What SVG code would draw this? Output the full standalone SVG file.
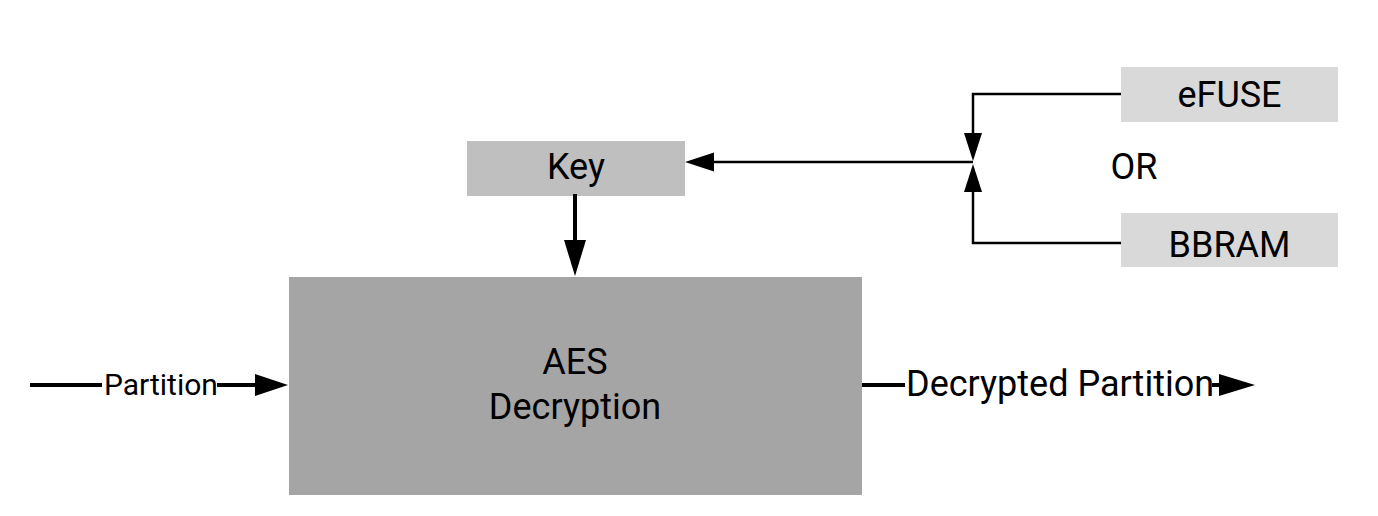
<svg xmlns="http://www.w3.org/2000/svg" width="1378" height="516" viewBox="0 0 1378 516">
<style>
text{font-family:Roboto,"Liberation Sans",sans-serif;fill:#000;}
.lbl{font-size:36px;text-anchor:middle;}
.thick{stroke:#000;stroke-width:4;fill:none;}
.thin{stroke:#000;stroke-width:2.5;fill:none;}
.head{fill:#000;stroke:none;}
</style>
<rect width="1378" height="516" fill="#fff"/>
<g id="aes">
<rect x="289" y="277" width="573" height="218" fill="#a5a5a5"/>
<text class="lbl" x="575" y="374">AES</text>
<text class="lbl" x="575" y="419">Decryption</text>
</g>
<g id="key">
<rect x="467" y="141" width="218" height="55" fill="#bfbfbf"/>
<text class="lbl" x="576" y="179">Key</text>
</g>
<g id="efuse">
<rect x="1121" y="67" width="217" height="55" fill="#d9d9d9"/>
<text class="lbl" x="1229.5" y="107">eFUSE</text>
</g>
<g id="bbram">
<rect x="1121" y="213" width="217" height="54" fill="#d9d9d9"/>
<text class="lbl" x="1229.5" y="257">BBRAM</text>
</g>
<g id="or">
<text class="lbl" x="1134" y="179">OR</text>
</g>
<g id="connectors">
<path class="thin" d="M1121 94 H973 V135"/>
<polygon class="head" points="964,133 982,133 973,161"/>
<path class="thin" d="M1121 243 H973 V190"/>
<polygon class="head" points="964,192 982,192 973,164"/>
<path class="thin" d="M973 162 H712"/>
<polygon class="head" points="714,152.5 714,171.5 685,162"/>
<path class="thick" d="M575 194 V242"/>
<polygon class="head" points="564,240 586,240 575,276"/>
<path class="thick" d="M30 385 H102"/>
<text x="104" y="395" style="font-size:30px">Partition</text>
<path class="thick" d="M217 385 H257"/>
<polygon class="head" points="255,374 255,396 288,385"/>
<path class="thick" d="M862 385 H905"/>
<text x="906" y="396" style="font-size:36px">Decrypted Partition</text>
<path class="thick" d="M1212 385 H1221"/>
<polygon class="head" points="1219,374 1219,396 1255,385"/>
</g>
</svg>
